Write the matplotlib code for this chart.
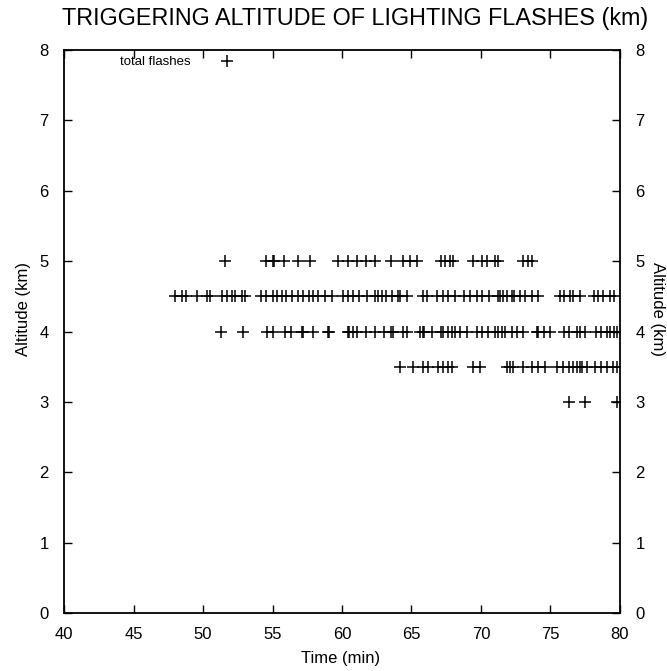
import matplotlib
matplotlib.use("Agg")
import matplotlib.pyplot as plt

plt.rcParams['font.family'] = ['Liberation Sans', 'DejaVu Sans']

# flash times (min), one list per altitude level (km)
t_50 = [51.6, 54.5, 55.0, 55.1, 55.8, 56.8, 57.7, 59.7, 60.4, 61.1, 61.7,
        62.4, 63.5, 64.4, 64.9, 65.4, 67.1, 67.4, 67.8, 68.0, 69.4, 70.1,
        70.4, 71.0, 71.2, 73.0, 73.4, 73.7]
t_45 = [48.0, 48.5, 48.8, 49.6, 50.3, 50.5, 51.4, 51.7, 52.1, 52.3, 52.8,
        53.0, 54.2, 54.5, 55.0, 55.3, 55.7, 56.0, 56.4, 56.8, 57.2, 57.6,
        57.9, 58.3, 58.8, 59.3, 60.1, 60.4, 60.8, 61.2, 61.8, 62.4, 62.6,
        62.9, 63.2, 63.6, 64.0, 64.2, 64.7, 65.8, 66.1, 66.8, 67.3, 67.6,
        68.1, 68.8, 69.2, 69.7, 70.1, 70.6, 71.2, 71.4, 71.6, 71.9, 72.2,
        72.4, 72.8, 73.2, 73.7, 74.1, 75.7, 76.0, 76.4, 76.6, 77.1, 78.1,
        78.4, 78.8, 79.3, 79.6]
t_40 = [51.3, 52.9, 54.6, 55.0, 55.9, 56.3, 57.1, 57.2, 57.9, 59.0, 59.1,
        60.4, 60.5, 60.8, 61.1, 61.7, 62.4, 63.0, 63.5, 63.7, 64.4, 64.7,
        65.6, 65.8, 65.9, 66.5, 67.1, 67.3, 67.6, 67.9, 68.1, 68.5, 69.0,
        69.7, 70.1, 70.5, 71.0, 71.2, 71.5, 71.7, 72.2, 72.6, 73.0, 74.0,
        74.1, 74.5, 75.0, 76.0, 76.3, 76.9, 77.1, 77.5, 78.3, 78.6, 79.1,
        79.3, 79.6, 79.8]
t_35 = [64.2, 65.1, 65.8, 66.2, 66.9, 67.3, 67.6, 67.9, 69.4, 69.9, 71.9,
        72.1, 72.3, 73.0, 73.7, 74.1, 74.6, 75.5, 75.9, 76.3, 76.6, 76.9,
        77.1, 77.3, 77.6, 78.2, 78.6, 79.1, 79.5, 79.8]
t_30 = [76.3, 77.5, 79.8]

levels = [5.0, 4.5, 4.0, 3.5, 3.0]
times = [t_50, t_45, t_40, t_35, t_30]

x_ticks = [40, 45, 50, 55, 60, 65, 70, 75, 80]
y_ticks = [0, 1, 2, 3, 4, 5, 6, 7, 8]

fig = plt.figure(figsize=(6.67, 6.71), dpi=100)
ax = fig.add_axes([0.096, 0.0864, 0.8335, 0.8391])

xs, ys = [], []
for lev, tt in zip(levels, times):
    xs += tt
    ys += [lev] * len(tt)
ax.plot(xs, ys, ls='none', marker='+', ms=8, mew=1.1, color='black',
        label='total flashes')

ax.set_xlim(40, 80)
ax.set_ylim(0, 8)
ax.set_xticks(x_ticks)
ax.set_yticks(y_ticks)
ax.tick_params(direction='in', length=6, width=1, labelsize=12,
               top=True, right=True, labelright=True)
ax.tick_params(axis='x', pad=10)
ax.tick_params(axis='y', pad=11)
for s in ax.spines.values():
    s.set_linewidth(1.3)

fig.text(0.51, 0.018, 'Time (min)', fontsize=12, ha='center', va='center')
fig.text(0.035, 0.54, 'Altitude (km)', rotation=90, fontsize=12,
         ha='center', va='center')
fig.text(0.986, 0.54, 'Altitude (km)', rotation=270, fontsize=12,
         ha='center', va='center')
fig.text(0.532, 0.973, 'TRIGGERING ALTITUDE OF LIGHTING FLASHES (km)',
         fontsize=16.8, ha='center', va='center')

ax.legend(loc='upper left', bbox_to_anchor=(0.08, 1.01), frameon=False,
          markerfirst=False, fontsize=9.5, handletextpad=1.2, handlelength=3.0)

fig.savefig('out.png', dpi=100)
